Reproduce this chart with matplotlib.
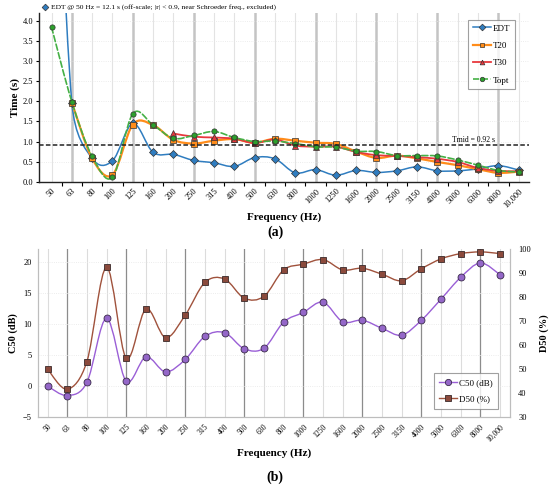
import matplotlib
matplotlib.use("Agg")
import matplotlib.pyplot as plt
import numpy as np
from matplotlib.path import Path
from matplotlib.patches import PathPatch
from matplotlib.lines import Line2D

plt.rcParams['font.family'] = ['Liberation Serif', 'DejaVu Serif']

# ---- data ----
freqs = ['50', '63', '80', '100', '125', '160', '200', '250', '315', '400', '500', '630',
         '800', '1000', '1250', '1600', '2000', '2500', '3150', '4000', '5000', '6300',
         '8000', '10,000']
octave = ['63', '125', '250', '500', '1000', '2000', '4000', '8000']

edt = [12.1, 1.97, 0.58, 0.52, 1.45, 0.73, 0.68, 0.53, 0.47, 0.38, 0.60, 0.57,
       0.22, 0.30, 0.16, 0.28, 0.23, 0.27, 0.37, 0.27, 0.27, 0.32, 0.40, 0.29]
t20 = [None, 1.97, 0.58, 0.17, 1.42, 1.41, 1.04, 0.95, 1.02, 1.06, 0.97, 1.07,
       1.02, 0.97, 0.94, 0.75, 0.59, 0.65, 0.58, 0.49, 0.41, 0.31, 0.22, 0.25]
t30 = [None, None, None, None, None, None, 1.20, 1.12, 1.10, 1.07, 0.96, 1.05,
       0.90, 0.87, 0.87, 0.74, 0.66, 0.64, 0.61, 0.57, 0.49, 0.34, 0.27, 0.26]
topt = [3.85, 1.99, 0.63, 0.11, 1.69, 1.41, 1.08, 1.15, 1.25, 1.10, 1.00, 1.01,
        0.95, 0.87, 0.86, 0.76, 0.75, 0.65, 0.65, 0.64, 0.54, 0.41, 0.28, 0.24]
tmid = 0.92

c50 = [0.0, -1.5, 0.6, 10.9, 0.8, 4.7, 2.3, 4.3, 8.0, 8.6, 6.0, 6.1,
       10.3, 11.85, 13.5, 10.35, 10.6, 9.3, 8.2, 10.6, 14.0, 17.5, 19.8, 17.9]
d50 = [50.1, 41.7, 53.2, 92.5, 54.6, 75.1, 63.2, 72.6, 86.2, 87.6, 79.6, 80.4,
       91.4, 93.8, 95.7, 91.4, 92.1, 89.6, 86.9, 91.9, 96.0, 98.2, 98.9, 98.2]


def smooth(ax, ys, color, lw, ls='-', z=3, k=0.6):
    # smoothed line like a spreadsheet chart: Catmull-Rom Beziers through the
    # points, control arms clamped to k * segment length on screen
    pts = np.array([(i, v) for i, v in enumerate(ys) if v is not None], float)
    tr = ax.transData
    inv = tr.inverted()
    scr = tr.transform(pts)
    n = len(scr)

    def arm(base, vec, seglen):
        L = np.hypot(*vec)
        if L > k * seglen:
            vec = vec * (k * seglen / L)
        return base + vec

    verts = [scr[0]]
    for i in range(n - 1):
        p1, p2 = scr[i], scr[i + 1]
        p0 = scr[i - 1] if i > 0 else p1
        p3 = scr[i + 2] if i + 2 < n else p2
        d12 = np.hypot(*(p2 - p1))
        verts += [arm(p1, (p2 - p0) / 6, d12), arm(p2, -(p3 - p1) / 6, d12), p2]
    codes = [Path.MOVETO] + [Path.CURVE4] * (3 * (n - 1))
    verts = inv.transform(np.array(verts))
    ax.add_patch(PathPatch(Path(verts, codes), fill=False, ec=color, lw=lw, ls=ls,
                           zorder=z, capstyle='round'))
    return pts


def vgrid(ax, c_oct, lw_oct, c_min):
    for i, f in enumerate(freqs):
        if f in octave:
            ax.axvline(i, color=c_oct, lw=lw_oct, zorder=0)
        else:
            ax.axvline(i, color=c_min, lw=0.8, zorder=0)


fig = plt.figure(figsize=(5.5, 4.88), dpi=100)
x = np.arange(len(freqs))

# ---------- (a) ----------
ax = fig.add_axes([0.0715, 0.6277, 0.890, 0.3457])
ax.set_xlim(-0.6, 23.5)
ax.set_ylim(0, 4.2)
vgrid(ax, '#c4c4c4', 1.8, '#e3e3e3')
for yv in np.arange(0.5, 4.01, 0.5):
    ax.axhline(yv, color='#e6e6e6', lw=0.6, ls=':', zorder=0)

series = [
    (edt, '#2f7dc0', 1.1, '-', 'D', 4.0, '#2f7dc0', 'EDT'),
    (t20, '#ff8c1a', 1.6, '-', 's', 3.7, '#ff8c1a', 'T20'),
    (t30, '#e8383d', 1.3, '-', '^', 4.0, '#e8383d', 'T30'),
    (topt, '#45b045', 1.2, '--', 'o', 3.8, '#2ca02c', 'Topt'),
]
handles = []
for j, (ys, col, lw, ls, mk, ms, mfc, lab) in enumerate(series):
    pts = smooth(ax, ys, col, lw, ls, z=3 + j)
    ax.plot(pts[:, 0], pts[:, 1], ls='none', marker=mk, ms=ms, mfc=mfc,
            mec='#333333', mew=0.5, zorder=7 + j, clip_on=True)
    handles.append(Line2D([], [], color=col, lw=lw, ls=ls, marker=mk, ms=ms * 0.85,
                          mfc=mfc, mec='#333333', mew=0.5, label=lab))

ax.axhline(tmid, color='#222222', lw=1.1, ls=(0, (3, 1.5)), zorder=12)
ax.text(20.8, tmid + 0.03, 'Tmid = 0.92 s', fontsize=5.5, ha='center', va='bottom',
        zorder=12)

ax.set_yticks(np.arange(0, 4.01, 0.5))
ax.set_yticklabels([f'{v:.1f}' for v in np.arange(0, 4.01, 0.5)], fontsize=6)
ax.set_xticks(x)
ax.set_xticklabels(freqs, fontsize=6, rotation=45, ha='right', rotation_mode='anchor')
ax.set_xticks(x[:-1] + 0.5, minor=True)
ax.tick_params(axis='x', which='major', length=0, pad=4)
ax.tick_params(axis='x', which='minor', length=3, width=0.8, direction='out')
ax.tick_params(axis='y', length=2.5, width=0.8, pad=2)
for s in ['top', 'right']:
    ax.spines[s].set_visible(False)
for s in ['left', 'bottom']:
    ax.spines[s].set_color('#222222')
    ax.spines[s].set_linewidth(1.0)
ax.set_ylabel('Time (s)', fontsize=8, fontweight='bold', labelpad=2)
ax.set_xlabel('Frequency (Hz)', fontsize=8, fontweight='bold', labelpad=2)
leg = ax.legend(handles=handles, loc='upper right', bbox_to_anchor=(0.972, 0.96),
                fontsize=6.5, frameon=True, fancybox=False, edgecolor='#888888',
                labelspacing=1.0, handlelength=2.0, handletextpad=0.25,
                borderpad=0.5, borderaxespad=0)
leg.get_frame().set_linewidth(0.8)
leg.set_zorder(20)

ax.plot([0.011], [1.036], transform=ax.transAxes, marker='D', ms=3.4, mfc='#2f7dc0',
        mec='#333333', mew=0.5, clip_on=False, ls='none')
ax.text(0.024, 1.036, 'EDT @ 50 Hz = 12.1 s (off-scale; |r| < 0.9, near Schroeder freq., excluded)',
        transform=ax.transAxes, fontsize=5.4, va='center', ha='left')

fig.text(0.5, 0.524, '(a)', fontsize=10, fontweight='bold', ha='center', va='center')

# ---------- (b) ----------
bx = fig.add_axes([0.0685, 0.1449, 0.8587, 0.3443])
bx.set_xlim(-0.5, 23.5)
bx.set_ylim(-5, 22)
vgrid(bx, '#8c8c8c', 0.9, '#dcdcdc')
for yv in [0, 5, 10, 15, 20]:
    bx.axhline(yv, color='#e6e6e6', lw=0.6, ls=':', zorder=0)
bx2 = bx.twinx()
bx2.set_ylim(30, 100)

pc = smooth(bx, c50, '#9a5fd6', 1.0)
bx.plot(pc[:, 0], pc[:, 1], ls='none', marker='o', ms=5, mfc='#9467c8', mec='#3a2a4a',
        mew=0.6, zorder=8)
pd_ = smooth(bx2, d50, '#a0523c', 1.0)
bx2.plot(pd_[:, 0], pd_[:, 1], ls='none', marker='s', ms=4.3, mfc='#8b4a3c', mec='#3a2a2a',
         mew=0.6, zorder=8)

bx.set_yticks([-5, 0, 5, 10, 15, 20])
bx.set_yticklabels(['\u22125', '0', '5', '10', '15', '20'], fontsize=6)
bx2.set_yticks(np.arange(30, 101, 10))
bx2.set_yticklabels([str(v) for v in range(30, 101, 10)], fontsize=6)
bx.set_xticks(x)
bx.set_xticklabels(freqs, fontsize=5.5, rotation=45, ha='right', rotation_mode='anchor')
bx.tick_params(axis='x', length=0, pad=4)
bx.tick_params(axis='y', length=0, pad=4)
bx2.tick_params(axis='y', length=0, pad=6)
for a in (bx, bx2):
    a.spines['top'].set_visible(False)
    for s in ['left', 'right', 'bottom']:
        a.spines[s].set_color('#bdbdbd')
        a.spines[s].set_linewidth(0.8)
bx.set_ylabel('C50 (dB)', fontsize=7.5, fontweight='bold', labelpad=4)
bx2.set_ylabel('D50 (%)', fontsize=7.5, fontweight='bold', labelpad=6)
bx.set_xlabel('Frequency (Hz)', fontsize=8, fontweight='bold', labelpad=4)

h2 = [Line2D([], [], color='#9a5fd6', lw=1.0, marker='o', ms=4.5, mfc='#9467c8',
             mec='#3a2a4a', mew=0.6, label='C50 (dB)'),
      Line2D([], [], color='#a0523c', lw=1.0, marker='s', ms=4, mfc='#8b4a3c',
             mec='#3a2a2a', mew=0.6, label='D50 (%)')]
leg2 = bx2.legend(handles=h2, loc='lower right', bbox_to_anchor=(0.975, 0.05),
                  fontsize=6.5, frameon=True, fancybox=False, edgecolor='#888888',
                  labelspacing=0.9, handlelength=2.0, handletextpad=0.2,
                  borderpad=0.6, borderaxespad=0)
leg2.get_frame().set_linewidth(0.8)

fig.text(0.5, 0.022, '(b)', fontsize=10, fontweight='bold', ha='center', va='center')

fig.savefig('out.png', dpi=100)
